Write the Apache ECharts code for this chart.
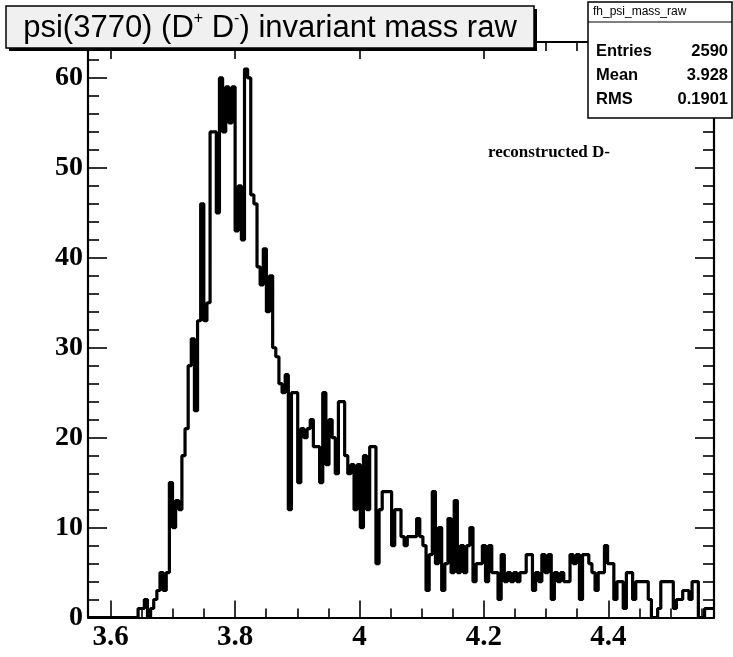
<!DOCTYPE html>
<html><head><meta charset="utf-8">
<script src="https://cdn.jsdelivr.net/npm/echarts@6/dist/echarts.min.js"></script>
<style>html,body{margin:0;padding:0;background:#fff}#c{width:733px;height:657px}</style>
</head><body><div id="c"></div>
<script>
// ---- data ----
const XMIN = 3.5635, XMAX = 4.5700, NBINS = 200;
const counts = [
 0,0,0,0,0,0,0,0,0,0, 0,0,0,0,0,0,1,1,2,0,
 1,2,3,5,3,5,15,10,13,12, 18,21,28,31,23,33,46,33,35,54,
 54,45,60,54,59,55,59,43,48,42, 61,60,47,46,39,37,41,34,38,30,
 29,26,25,27,12,25,25,15,21,20, 21,22,19,19,15,25,17,22,20,16,
 24,24,18,16,17,12,17,10,18,12, 19,19,6,12,14,14,14,8,12,12,
 9,8,9,9,9,11,9,8,3,7, 14,6,10,3,6,11,5,13,5,8,
 5,8,10,4,6,6,8,4,8,5, 5,2,7,4,5,4,5,4,5,5,
 7,7,3,5,4,7,5,7,2,5, 4,5,4,4,7,6,7,2,7,7,
 6,5,3,5,5,8,6,6,2,4, 4,1,5,5,2,4,4,4,4,2,
 0,0,1,4,4,4,4,1,2,2, 3,3,2,4,4,0,0,1,1,1
];
const xMajorTicks = [3.6, 3.8, 4.0, 4.2, 4.4];
const xTickLabels = ['3.6', '3.8', '4', '4.2', '4.4'];
const xMinorTicks = [3.65,3.7,3.75,3.85,3.9,3.95,4.05,4.1,4.15,4.25,4.3,4.35,4.45,4.5,4.55];
const yMajorTicks = [0, 10, 20, 30, 40, 50, 60];
const yMinorTicks = [2,4,6,8,12,14,16,18,22,24,26,28,32,34,36,38,42,44,46,48,52,54,56,58,62];
const YMAX = 64;
const titleParts = ['psi(3770) (D', '+', ' D', '-', ') invariant mass raw'];
const statsName = 'fh_psi_mass_raw';
const statsRows = [['Entries', '2590'], ['Mean', '3.928'], ['RMS', '0.1901']];
const annotation = 'reconstructed D-';

// ---- build ----
const bw = (XMAX - XMIN) / NBINS;
const stepData = counts.map((c, i) => [XMIN + i * bw, c]);
stepData.push([XMAX, counts[counts.length - 1]]);

const GRID = {left: 88, top: 42, right: 19, bottom: 39.5};
const serifBold = {fontFamily: 'Liberation Serif', fontWeight: 'bold', fontSize: 28, color: '#000'};

function xAx(pos, ticks, len, showLine, labels) {
  return {
    type: 'value', position: pos, min: XMIN, max: XMAX, gridIndex: 0,
    axisLine: {show: showLine, onZero: false, lineStyle: {color: '#000', width: 2.2}},
    axisTick: {show: true, inside: true, length: len, customValues: ticks, lineStyle: {color: '#000', width: 1.6}},
    axisLabel: labels ? Object.assign({show: true, customValues: ticks, margin: 6,
      formatter: v => { const i = xMajorTicks.findIndex(t => Math.abs(t - v) < 1e-6); return i >= 0 ? xTickLabels[i] : ''; }}, serifBold, {fontSize: 29})
      : {show: false},
    splitLine: {show: false}
  };
}
function yAx(pos, ticks, len, showLine, labels) {
  return {
    type: 'value', position: pos, min: 0, max: YMAX, gridIndex: 0,
    axisLine: {show: showLine, onZero: false, lineStyle: {color: '#000', width: 2.2}},
    axisTick: {show: true, inside: true, length: len, customValues: ticks, lineStyle: {color: '#000', width: 1.6}},
    axisLabel: labels ? Object.assign({show: true, customValues: ticks, margin: 5}, serifBold) : {show: false},
    splitLine: {show: false}
  };
}

const titleRich = {
  t: {fontFamily: 'Liberation Sans', fontSize: 31, color: '#000', lineHeight: 34},
  s: {fontFamily: 'Liberation Sans', fontSize: 16, color: '#000', lineHeight: 34, verticalAlign: 'top', padding: [0, 0, 12, 0]}
};
const titleText = titleParts.map((p, i) => (i % 2 ? '{s|' + p + '}' : '{t|' + p + '}')).join('');

const graphics = [
  {type: 'rect', z: 100, shape: {x: 9, y: 9, width: 528, height: 42}, style: {fill: '#000'}},
  {type: 'rect', z: 101, shape: {x: 6, y: 6, width: 528, height: 42}, style: {fill: '#f0f0f0', stroke: '#000', lineWidth: 1.5}},
  {type: 'text', z: 102, x: 270, y: 28, style: {text: titleText, rich: titleRich, align: 'center', verticalAlign: 'middle'}},
  {type: 'rect', z: 100, shape: {x: 588, y: 2, width: 144, height: 116}, style: {fill: '#fff', stroke: '#000', lineWidth: 1.5}},
  {type: 'line', z: 101, shape: {x1: 588, y1: 22, x2: 732, y2: 22}, style: {stroke: '#000', lineWidth: 1.2}},
  {type: 'text', z: 102, x: 593, y: 12, style: {text: statsName, font: '12px "Liberation Sans Narrow", "Liberation Sans"', fill: '#000', verticalAlign: 'middle'}},
  {type: 'text', z: 102, x: 610, y: 153, style: {text: annotation, font: 'bold 17px "Liberation Serif"', fill: '#000', align: 'right', verticalAlign: 'middle'}}
];
statsRows.forEach((r, i) => {
  const y = 51 + i * 24;
  graphics.push({type: 'text', z: 102, x: 596, y: y, style: {text: r[0], font: 'bold 16.5px "Liberation Sans"', fill: '#000', verticalAlign: 'middle'}});
  graphics.push({type: 'text', z: 102, x: 728, y: y, style: {text: r[1], font: 'bold 16.5px "Liberation Sans"', fill: '#000', align: 'right', verticalAlign: 'middle'}});
});

const chart = echarts.init(document.getElementById('c'), null, {renderer: 'canvas'});
chart.setOption({
  animation: false,
  backgroundColor: '#fff',
  grid: GRID,
  xAxis: [
    xAx('bottom', xMajorTicks, 17, true, true),
    xAx('bottom', xMinorTicks, 9, false, false),
    xAx('top', xMajorTicks, 17, true, false),
    xAx('top', xMinorTicks, 9, false, false)
  ],
  yAxis: [
    yAx('left', yMajorTicks, 19, true, true),
    yAx('left', yMinorTicks, 11, false, false),
    yAx('right', yMajorTicks, 19, true, false),
    yAx('right', yMinorTicks, 11, false, false)
  ],
  series: [{
    type: 'line', xAxisIndex: 0, yAxisIndex: 0, step: 'end', data: stepData,
    showSymbol: false, symbol: 'none', clip: false,
    lineStyle: {color: '#000', width: 3.2}
  }],
  graphic: graphics
});
</script></body></html>
